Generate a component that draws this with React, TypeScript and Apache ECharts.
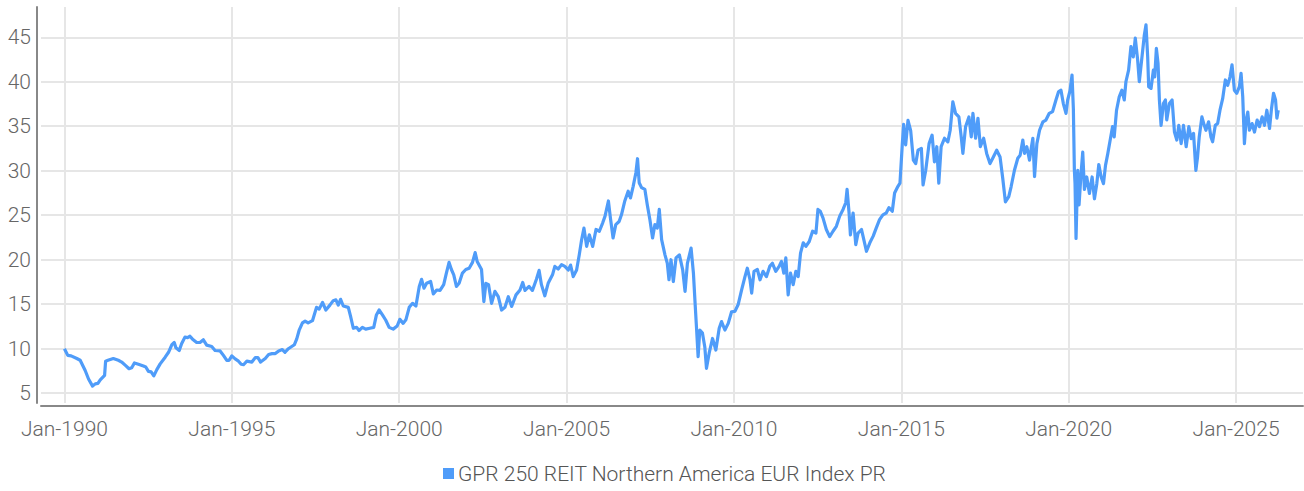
import React, { useEffect, useRef } from "react";
import * as echarts from "echarts";

const seriesName = "GPR 250 REIT Northern America EUR Index PR";

const xTickYears = [1990, 1995, 2000, 2005, 2010, 2015, 2020, 2025];
const yTickValues = [5, 10, 15, 20, 25, 30, 35, 40, 45];

// decimal years
const years: number[] = [
  1990.0, 1990.1, 1990.2, 1990.37, 1990.47, 1990.62, 1990.72, 1990.84, 1990.92, 1991.0,
  1991.07, 1991.2, 1991.23, 1991.3, 1991.46, 1991.61, 1991.71, 1991.83, 1991.93, 1992.01,
  1992.09, 1992.21, 1992.36, 1992.43, 1992.51, 1992.59, 1992.67, 1992.76, 1992.86, 1993.01,
  1993.11, 1993.21, 1993.28, 1993.33, 1993.43, 1993.5, 1993.6, 1993.68, 1993.75, 1993.82,
  1993.95, 1994.05, 1994.15, 1994.25, 1994.4, 1994.5, 1994.65, 1994.75, 1994.85, 1994.92,
  1995.0, 1995.1, 1995.2, 1995.28, 1995.35, 1995.45, 1995.6, 1995.7, 1995.78, 1995.86,
  1996.0, 1996.1, 1996.2, 1996.3, 1996.4, 1996.51, 1996.59, 1996.69, 1996.79, 1996.87,
  1996.94, 1997.01, 1997.11, 1997.19, 1997.28, 1997.41, 1997.53, 1997.61, 1997.71, 1997.81,
  1997.93, 1998.03, 1998.11, 1998.18, 1998.25, 1998.33, 1998.48, 1998.55, 1998.63, 1998.73,
  1998.8, 1998.9, 1999.0, 1999.12, 1999.24, 1999.32, 1999.4, 1999.5, 1999.6, 1999.7,
  1999.82, 1999.94, 2000.02, 2000.12, 2000.2, 2000.3, 2000.4, 2000.5, 2000.6, 2000.67,
  2000.74, 2000.82, 2000.94, 2001.02, 2001.12, 2001.22, 2001.33, 2001.41, 2001.49, 2001.56,
  2001.63, 2001.71, 2001.79, 2001.89, 2001.99, 2002.09, 2002.19, 2002.27, 2002.33, 2002.46,
  2002.53, 2002.59, 2002.67, 2002.76, 2002.86, 2002.96, 2003.06, 2003.16, 2003.26, 2003.36,
  2003.49, 2003.61, 2003.69, 2003.76, 2003.88, 2003.98, 2004.1, 2004.18, 2004.25, 2004.35,
  2004.45, 2004.58, 2004.65, 2004.75, 2004.85, 2004.95, 2005.05, 2005.12, 2005.2, 2005.3,
  2005.38, 2005.45, 2005.52, 2005.6, 2005.68, 2005.78, 2005.88, 2005.98, 2006.08, 2006.15,
  2006.25, 2006.31, 2006.39, 2006.47, 2006.57, 2006.64, 2006.74, 2006.84, 2006.91, 2006.99,
  2007.07, 2007.12, 2007.17, 2007.24, 2007.34, 2007.41, 2007.49, 2007.57, 2007.64, 2007.71,
  2007.77, 2007.84, 2007.94, 2008.01, 2008.06, 2008.12, 2008.19, 2008.27, 2008.37, 2008.47,
  2008.54, 2008.61, 2008.72, 2008.79, 2008.84, 2008.88, 2008.93, 2008.98, 2009.06, 2009.13,
  2009.18, 2009.26, 2009.36, 2009.46, 2009.56, 2009.63, 2009.73, 2009.83, 2009.93, 2010.03,
  2010.13, 2010.23, 2010.33, 2010.4, 2010.48, 2010.53, 2010.6, 2010.7, 2010.78, 2010.87,
  2010.97, 2011.07, 2011.15, 2011.25, 2011.35, 2011.42, 2011.49, 2011.55, 2011.62, 2011.69,
  2011.77, 2011.85, 2011.92, 2011.99, 2012.07, 2012.15, 2012.25, 2012.35, 2012.45, 2012.51,
  2012.58, 2012.66, 2012.76, 2012.86, 2012.96, 2013.06, 2013.16, 2013.26, 2013.34, 2013.38,
  2013.44, 2013.48, 2013.56, 2013.64, 2013.71, 2013.81, 2013.88, 2013.96, 2014.06, 2014.16,
  2014.25, 2014.35, 2014.45, 2014.55, 2014.63, 2014.73, 2014.8, 2014.9, 2014.96, 2015.03,
  2015.07, 2015.13, 2015.2, 2015.28, 2015.36, 2015.43, 2015.5, 2015.6, 2015.65, 2015.73,
  2015.83, 2015.92, 2015.99, 2016.06, 2016.12, 2016.19, 2016.29, 2016.39, 2016.46, 2016.54,
  2016.62, 2016.72, 2016.79, 2016.84, 2016.92, 2017.02, 2017.09, 2017.14, 2017.22, 2017.29,
  2017.36, 2017.46, 2017.55, 2017.65, 2017.75, 2017.85, 2017.95, 2018.03, 2018.11, 2018.21,
  2018.28, 2018.38, 2018.48, 2018.55, 2018.63, 2018.68, 2018.75, 2018.83, 2018.88, 2018.93,
  2018.98, 2019.05, 2019.13, 2019.23, 2019.32, 2019.42, 2019.52, 2019.62, 2019.7, 2019.77,
  2019.84, 2019.92, 2019.97, 2020.04, 2020.1, 2020.14, 2020.17, 2020.19, 2020.22, 2020.27,
  2020.31, 2020.37, 2020.42, 2020.47, 2020.54, 2020.62, 2020.7, 2020.77, 2020.84, 2020.9,
  2020.97, 2021.04, 2021.1, 2021.17, 2021.24, 2021.31, 2021.36, 2021.43, 2021.51, 2021.59,
  2021.66, 2021.71, 2021.79, 2021.86, 2021.93, 2021.99, 2022.06, 2022.11, 2022.19, 2022.26,
  2022.31, 2022.36, 2022.39, 2022.46, 2022.53, 2022.57, 2022.62, 2022.67, 2022.71, 2022.76,
  2022.83, 2022.89, 2022.93, 2023.01, 2023.09, 2023.16, 2023.23, 2023.29, 2023.36, 2023.43,
  2023.51, 2023.59, 2023.66, 2023.73, 2023.8, 2023.85, 2023.9, 2023.98, 2024.05, 2024.1,
  2024.18, 2024.25, 2024.3, 2024.38, 2024.45, 2024.52, 2024.6, 2024.68, 2024.75, 2024.82,
  2024.88, 2024.95, 2025.02, 2025.1, 2025.15, 2025.2, 2025.25, 2025.3, 2025.35, 2025.4,
  2025.48, 2025.55, 2025.63, 2025.7, 2025.78, 2025.85, 2025.92, 2026.0, 2026.06, 2026.12,
  2026.18, 2026.22, 2026.26,
];

const values: number[] = [
  10.0, 9.25, 9.2, 8.9, 8.7, 7.55, 6.6, 5.8, 6.05, 6.1,
  6.5, 7.0, 8.6, 8.7, 8.9, 8.7, 8.5, 8.1, 7.75, 7.85,
  8.4, 8.25, 8.05, 7.95, 7.45, 7.4, 6.95, 7.65, 8.3, 9.05,
  9.6, 10.45, 10.7, 10.1, 9.8, 10.55, 11.3, 11.25, 11.4, 11.1,
  10.7, 10.7, 11.0, 10.4, 10.25, 9.8, 9.75, 9.25, 8.7, 8.7,
  9.2, 8.85, 8.6, 8.25, 8.2, 8.6, 8.5, 9.0, 9.0, 8.5,
  8.9, 9.35, 9.45, 9.45, 9.75, 9.9, 9.6, 10.0, 10.25, 10.45,
  11.1, 12.05, 12.9, 13.1, 12.9, 13.15, 14.65, 14.45, 15.2, 14.35,
  14.9, 15.4, 15.5, 14.9, 15.55, 14.8, 14.65, 13.6, 12.3, 12.4,
  12.05, 12.4, 12.2, 12.3, 12.4, 13.8, 14.35, 13.8, 13.2, 12.4,
  12.2, 12.55, 13.3, 12.85, 13.25, 14.65, 15.1, 14.8, 17.0, 17.8,
  16.8, 17.35, 17.55, 16.15, 16.6, 16.55, 17.2, 18.5, 19.7, 18.9,
  18.3, 17.0, 17.35, 18.5, 18.9, 19.05, 19.7, 20.8, 19.8, 18.9,
  15.3, 17.35, 17.2, 15.1, 16.45, 15.85, 14.35, 14.65, 15.85, 14.75,
  16.05, 16.6, 17.45, 16.55, 17.0, 16.55, 17.8, 18.8, 17.2, 15.95,
  17.35, 18.3, 19.25, 18.95, 19.45, 19.25, 18.85, 19.4, 18.1, 18.85,
  20.55, 22.25, 23.55, 21.5, 22.8, 21.5, 23.4, 23.2, 24.15, 24.9,
  26.6, 24.7, 22.45, 23.95, 24.3, 25.05, 26.6, 27.7, 26.95, 28.25,
  29.75, 31.35, 28.65, 28.1, 27.9, 26.2, 24.5, 22.45, 23.95, 23.55,
  25.65, 22.25, 20.55, 19.6, 17.75, 20.0, 17.55, 20.2, 20.55, 18.85,
  16.45, 19.6, 21.3, 18.5, 15.1, 12.5, 9.1, 12.1, 11.75, 10.2,
  7.8, 9.5, 11.15, 9.85, 12.3, 13.05, 12.1, 12.85, 14.15, 14.2,
  15.0, 16.6, 18.1, 19.05, 17.75, 16.25, 18.7, 18.9, 17.75, 18.7,
  18.1, 19.25, 19.6, 18.7, 19.25, 19.8, 18.5, 20.2, 16.05, 18.5,
  17.2, 18.7, 18.1, 20.75, 21.9, 21.5, 22.05, 23.2, 23.0, 25.65,
  25.45, 24.7, 23.4, 22.6, 23.2, 23.75, 24.9, 25.65, 26.4, 27.9,
  25.25, 22.8, 25.25, 21.7, 23.0, 23.4, 22.25, 20.95, 21.9, 22.65,
  23.55, 24.5, 25.05, 25.25, 25.85, 25.45, 27.5, 28.25, 28.6, 33.0,
  35.2, 32.9, 35.65, 34.5, 31.2, 30.8, 32.3, 32.5, 28.4, 30.05,
  33.05, 34.0, 31.0, 32.7, 28.6, 32.7, 33.65, 33.25, 34.55, 37.75,
  36.45, 36.05, 33.8, 31.95, 34.95, 36.05, 33.8, 36.45, 33.65, 35.9,
  32.7, 33.65, 31.95, 30.8, 31.55, 32.3, 31.55, 29.15, 26.5, 27.1,
  28.2, 30.05, 31.4, 31.75, 33.45, 31.95, 32.7, 31.2, 32.5, 33.65,
  29.35, 33.05, 34.55, 35.5, 35.7, 36.45, 36.65, 37.95, 38.9, 39.05,
  37.55, 36.45, 37.95, 39.0, 40.75, 37.0, 30.05, 28.55, 22.4, 30.05,
  26.15, 29.7, 32.1, 27.9, 29.3, 27.45, 29.3, 26.85, 28.55, 30.7,
  29.3, 28.55, 30.6, 31.95, 33.45, 34.95, 33.8, 36.8, 38.3, 39.05,
  37.95, 40.0, 41.3, 43.95, 42.8, 44.9, 42.45, 40.0, 42.8, 45.25,
  46.4, 42.8, 39.45, 39.25, 41.3, 40.55, 43.75, 42.05, 37.95, 35.1,
  37.55, 37.95, 35.7, 37.55, 37.95, 34.35, 33.45, 35.1, 33.05, 35.1,
  32.7, 34.95, 33.6, 34.2, 30.05, 31.55, 33.8, 36.05, 35.1, 34.55,
  35.5, 33.8, 33.25, 35.1, 35.3, 36.8, 38.1, 40.2, 39.6, 40.55,
  41.9, 39.05, 38.7, 39.45, 40.95, 38.3, 33.05, 35.7, 36.6, 34.55,
  35.3, 34.35, 35.7, 34.95, 36.05, 35.1, 36.8, 34.75, 37.0, 38.7,
  37.95, 35.9, 36.8,
];

const FONT = "Roboto, 'Noto Sans', sans-serif";

export default function App() {
  const ref = useRef<HTMLDivElement>(null);

  useEffect(() => {
    if (!ref.current) return;
    const chart = echarts.init(ref.current, undefined, { renderer: "svg" });
    const data = years.map((y, i) => [y, values[i]]);
    chart.setOption({
      animation: false,
      backgroundColor: "#ffffff",
      grid: { left: 41, right: 1, top: 7, bottom: 88, containLabel: false },
      legend: {
        data: [seriesName],
        bottom: 2,
        left: 438,
        icon: "rect",
        itemWidth: 11,
        itemHeight: 11,
        itemGap: 4,
        textStyle: { fontFamily: FONT, fontSize: 21, fontWeight: 300, color: "#555", padding: [0, 0, 0, -1] },
      },
      xAxis: {
        type: "value",
        min: 1989.3,
        max: 2027.0,
        minInterval: 5,
        maxInterval: 5,
        splitNumber: 7,
        offset: 3,
        axisLine: { show: true, lineStyle: { color: "#888", width: 2 } },
        axisTick: { show: false },
        axisLabel: {
          showMinLabel: false,
          showMaxLabel: false,
          margin: 12,
          fontFamily: FONT,
          fontSize: 21,
          fontWeight: 300,
          color: "#666",
          formatter: (v: number) => (xTickYears.includes(Math.round(v)) ? "Jan-" + Math.round(v) : ""),
        },
        splitLine: {
          show: true,
          showMinLine: false,
          showMaxLine: false,
          lineStyle: { color: "#e6e6e6", width: 2 },
        },
      },
      yAxis: {
        type: "value",
        min: 3.9,
        max: 48.4,
        minInterval: 5,
        maxInterval: 5,
        splitNumber: 9,
        offset: 4,
        axisLine: { show: true, lineStyle: { color: "#888", width: 2 } },
        axisTick: { show: false },
        axisLabel: {
          showMinLabel: false,
          showMaxLabel: false,
          margin: 6,
          fontFamily: FONT,
          fontSize: 21,
          fontWeight: 300,
          color: "#666",
          formatter: (v: number) => (yTickValues.includes(Math.round(v)) ? String(Math.round(v)) : ""),
        },
        splitLine: {
          show: true,
          showMinLine: false,
          showMaxLine: false,
          lineStyle: { color: "#e6e6e6", width: 2 },
        },
      },
      series: [
        {
          name: seriesName,
          type: "line",
          data,
          showSymbol: false,
          symbol: "none",
          color: "#4f9cf9",
          lineStyle: { color: "#4f9cf9", width: 3.2, join: "round" },
        },
      ],
    });
    return () => chart.dispose();
  }, []);

  return (
    <div
      ref={ref}
      style={{ position: "fixed", left: 0, top: 0, width: 1304, height: 491, background: "#fff" }}
    />
  );
}
